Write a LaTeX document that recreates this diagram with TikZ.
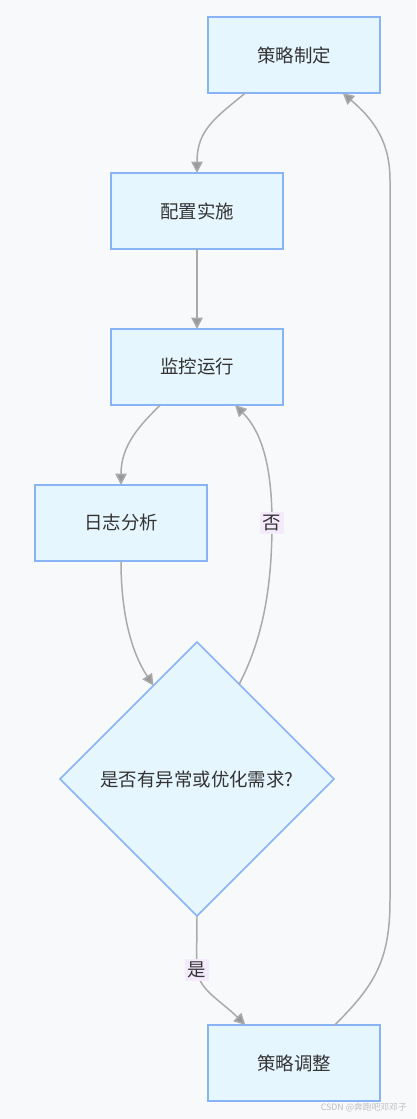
\documentclass[tikz,border=0pt]{standalone}
\usepackage{fontspec}
\setmainfont{Noto Sans CJK SC}
\usepackage{xcolor}
\usepackage{tikz}
\usetikzlibrary{arrows.meta, shapes.geometric}

\definecolor{latar}{HTML}{F8F9FB}
\definecolor{isi}{HTML}{E6F6FF}
\definecolor{garis}{HTML}{88B4F5}
\definecolor{panahwarna}{HTML}{AAAAAA}
\definecolor{label}{HTML}{F3EAFB}
\definecolor{teks}{HTML}{333333}

\begin{document}
\begin{tikzpicture}[
    x=0.02cm, y=-0.02cm,
    kotak/.style={draw=garis, fill=isi, line width=0.85pt, minimum width=3.44cm,
                  minimum height=1.52cm, inner sep=0pt, outer sep=0pt,
                  text=teks, font=\fontsize{10.5pt}{12pt}\selectfont},
    putusan/.style={diamond, aspect=1, draw=garis, fill=isi, line width=0.85pt,
                    minimum width=5.48cm, minimum height=5.48cm, inner sep=0pt,
                    outer sep=0pt, text=teks, font=\fontsize{10.5pt}{12pt}\selectfont},
    panah/.style={-{Triangle[length=6.5pt, width=6.5pt, fill=gray!80]},
                  draw=panahwarna, line width=0.85pt},
    ket/.style={fill=label, inner sep=1.5pt, text=teks,
                font=\fontsize{10.5pt}{12pt}\selectfont}
  ]
    % latar belakang
    \fill[latar] (0,0) rectangle (416,1119);
    \useasboundingbox (0,0) rectangle (416,1119);

    \node[kotak] (zd) at (294,55) {策略制定};
    \node[kotak] (pz) at (197,211) {配置实施};
    \node[kotak] (jk) at (197,367) {监控运行};
    \node[kotak] (rz) at (121,523) {日志分析};
    \node[putusan] (pd) at (197,779) {是否有异常或优化需求?};
    \node[kotak] (tz) at (294,1063) {策略调整};

    \coordinate (fou) at (272,523);
    \coordinate (shi) at (197,970);

    \draw[panah] (zd.218) .. controls (215,118) and (197,130) .. (pz.north);
    \draw[panah] (pz.south) -- (jk.north);
    \draw[panah] (jk.226) .. controls (140,425) and (121,445) .. (rz.north);
    \draw[panah] (rz.south) .. controls (121,610) and (130,650) .. (pd.115);
    \draw[panah] (pd.66) .. controls (262,640) and (272,590) .. (fou)
      .. controls (272,462) and (260,430) .. (jk.315);
    \draw[panah] (pd.south) .. controls (197,945) and (196,960) .. (shi)
      .. controls (199,990) and (220,1000) .. (tz.142);
    \draw[panah] (tz.43) .. controls (375,985) and (390,960) .. (390,900)
      -- (390,180) .. controls (390,140) and (372,118) .. (zd.322);

    \node[ket] (lfou) at (fou) {否};
    \node[ket] (lshi) at (shi) {是};

    \node[anchor=east, text=black!25, font=\fontsize{5pt}{6pt}\selectfont] (wm)
      at (413,1108) {CSDN @奔跑吧邓邓子};
  \end{tikzpicture}
\end{document}
